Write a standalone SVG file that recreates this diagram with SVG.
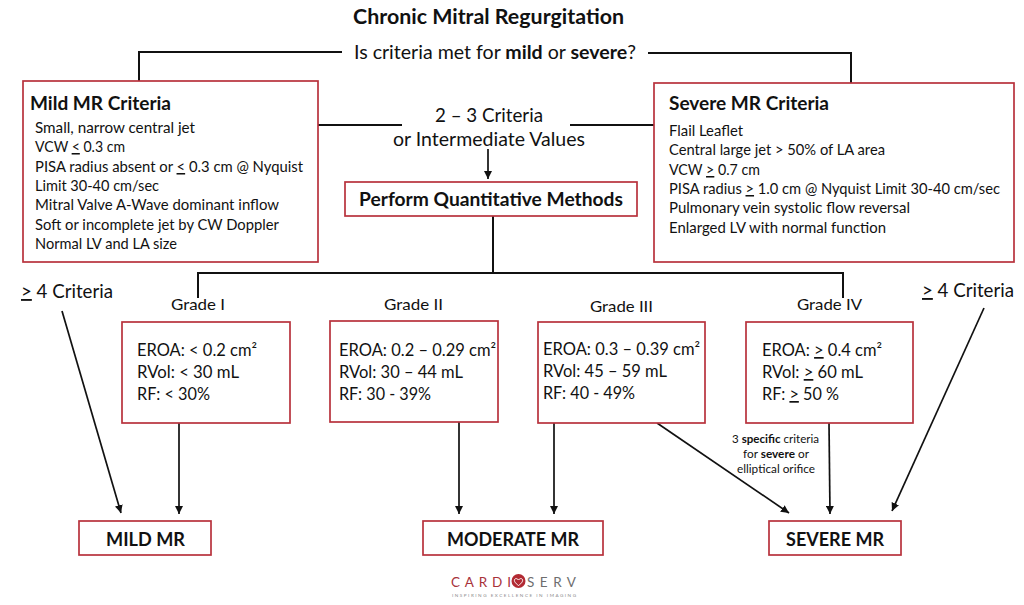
<svg xmlns="http://www.w3.org/2000/svg" width="1024" height="605" viewBox="0 0 1024 605">
<defs>
<style>
text{font-family:"Lato","Carlito","Open Sans",sans-serif;fill:#111}
.box{fill:#fff;stroke:#b8323c;stroke-width:1.7}
.ln{fill:none;stroke:#111;stroke-width:2}
.ar{fill:none;stroke:#111;stroke-width:1.7;marker-end:url(#ah)}
.b{font-weight:700}
.u{text-decoration:underline}
.t{font-size:15.4px}
.h{font-size:19.8px;font-weight:700}
.g{font-size:15.8px}
.m{font-size:17px}
.q{font-size:18.6px}
.o{font-size:19.6px;font-weight:700;text-anchor:middle}
.s{font-size:11px}
</style>
<marker id="ah" viewBox="0 0 8 8" refX="8" refY="4" markerWidth="8" markerHeight="8" markerUnits="userSpaceOnUse" orient="auto"><path d="M0 0L8 4L0 8Z" fill="#111"/></marker>
</defs>
<rect width="1024" height="605" fill="#fff"/>
<g id="connectors">
<path class="ln" d="M342 52H139V81"/>
<path class="ln" d="M648 53H851V83"/>
<path class="ln" d="M318 125H402"/>
<path class="ln" d="M570 125H654"/>
<path class="ar" d="M488 149V179"/>
<path class="ln" d="M493 216V273"/>
<path class="ln" d="M198 298V273H843V298"/>
<path class="ar" d="M62 311L121 513"/>
<path class="ar" d="M179 423V514"/>
<path class="ar" d="M459 422V514"/>
<path class="ar" d="M554 423V514"/>
<path class="ar" d="M657 423L789 513"/>
<path class="ar" d="M829 423L830 514"/>
<path class="ar" d="M984 308L892 511"/>
</g>
<g id="title"><text class="b" x="353" y="24" font-size="20.4" textLength="271" lengthAdjust="spacingAndGlyphs">Chronic Mitral Regurgitation</text></g>
<g id="question"><text x="354" y="59" font-size="18.8" textLength="282" lengthAdjust="spacingAndGlyphs">Is criteria met for <tspan class="b">mild</tspan> or <tspan class="b">severe</tspan>?</text></g>
<g id="mild-criteria">
<rect class="box" x="23" y="81" width="295" height="181"/>
<text class="h" x="30" y="110" textLength="141" lengthAdjust="spacingAndGlyphs">Mild MR Criteria</text>
<text class="t" x="35" y="133" textLength="160" lengthAdjust="spacingAndGlyphs">Small, narrow central jet</text>
<text class="t" x="35" y="152" textLength="90" lengthAdjust="spacingAndGlyphs">VCW <tspan class="u">&lt;</tspan> 0.3 cm</text>
<text class="t" x="35" y="172" textLength="268" lengthAdjust="spacingAndGlyphs">PISA radius absent or <tspan class="u">&lt;</tspan> 0.3 cm @ Nyquist</text>
<text class="t" x="35" y="191" textLength="124" lengthAdjust="spacingAndGlyphs">Limit 30-40 cm/sec</text>
<text class="t" x="35" y="210" textLength="244" lengthAdjust="spacingAndGlyphs">Mitral Valve A-Wave dominant inflow</text>
<text class="t" x="35" y="230" textLength="244" lengthAdjust="spacingAndGlyphs">Soft or incomplete jet by CW Doppler</text>
<text class="t" x="35" y="249" textLength="142" lengthAdjust="spacingAndGlyphs">Normal LV and LA size</text>
</g>
<g id="severe-criteria">
<rect class="box" x="654" y="83" width="360" height="179"/>
<text class="h" x="669" y="110" textLength="160" lengthAdjust="spacingAndGlyphs">Severe MR Criteria</text>
<text class="t" x="669" y="136" textLength="74" lengthAdjust="spacingAndGlyphs">Flail Leaflet</text>
<text class="t" x="669" y="155" textLength="216" lengthAdjust="spacingAndGlyphs">Central large jet &gt; 50% of LA area</text>
<text class="t" x="669" y="175" textLength="91" lengthAdjust="spacingAndGlyphs">VCW <tspan class="u">&gt;</tspan> 0.7 cm</text>
<text class="t" x="669" y="194" textLength="331" lengthAdjust="spacingAndGlyphs">PISA radius <tspan class="u">&gt;</tspan> 1.0 cm @ Nyquist Limit 30-40 cm/sec</text>
<text class="t" x="669" y="213" textLength="241" lengthAdjust="spacingAndGlyphs">Pulmonary vein systolic flow reversal</text>
<text class="t" x="669" y="233" textLength="217" lengthAdjust="spacingAndGlyphs">Enlarged LV with normal function</text>
</g>
<g id="intermediate">
<text class="q" x="435" y="122" textLength="108" lengthAdjust="spacingAndGlyphs">2 – 3 Criteria</text>
<text class="q" x="393" y="146" textLength="192" lengthAdjust="spacingAndGlyphs">or Intermediate Values</text>
</g>
<g id="quantitative">
<rect class="box" x="345" y="182" width="292" height="34"/>
<text class="h" x="359" y="206" textLength="264" lengthAdjust="spacingAndGlyphs">Perform Quantitative Methods</text>
</g>
<g id="mild-count"><text class="q" x="21" y="298" textLength="92" lengthAdjust="spacingAndGlyphs"><tspan class="u">&gt;</tspan> 4 Criteria</text></g>
<g id="severe-count"><text class="q" x="922" y="297" textLength="92" lengthAdjust="spacingAndGlyphs"><tspan class="u">&gt;</tspan> 4 Criteria</text></g>
<g id="grade-1">
<text class="g" x="171" y="310" textLength="54" lengthAdjust="spacingAndGlyphs">Grade I</text>
<rect class="box" x="122" y="322" width="168" height="101"/>
<text class="m" x="137" y="356" textLength="120" lengthAdjust="spacingAndGlyphs">EROA: &lt; 0.2 cm²</text>
<text class="m" x="137" y="378" textLength="102" lengthAdjust="spacingAndGlyphs">RVol: &lt; 30 mL</text>
<text class="m" x="137" y="400" textLength="73" lengthAdjust="spacingAndGlyphs">RF: &lt; 30%</text>
</g>
<g id="grade-2">
<text class="g" x="384" y="310" textLength="59" lengthAdjust="spacingAndGlyphs">Grade II</text>
<rect class="box" x="330" y="321" width="168" height="101"/>
<text class="m" x="339" y="356" textLength="157" lengthAdjust="spacingAndGlyphs">EROA: 0.2 – 0.29 cm²</text>
<text class="m" x="339" y="378" textLength="124" lengthAdjust="spacingAndGlyphs">RVol: 30 – 44 mL</text>
<text class="m" x="339" y="400" textLength="92" lengthAdjust="spacingAndGlyphs">RF: 30 - 39%</text>
</g>
<g id="grade-3">
<text class="g" x="590" y="312" textLength="63" lengthAdjust="spacingAndGlyphs">Grade III</text>
<rect class="box" x="538" y="322" width="167" height="101"/>
<text class="m" x="543" y="355" textLength="157" lengthAdjust="spacingAndGlyphs">EROA: 0.3 – 0.39 cm²</text>
<text class="m" x="543" y="377" textLength="124" lengthAdjust="spacingAndGlyphs">RVol: 45 – 59 mL</text>
<text class="m" x="543" y="399" textLength="92" lengthAdjust="spacingAndGlyphs">RF: 40 - 49%</text>
</g>
<g id="grade-4">
<text class="g" x="797" y="310" textLength="65" lengthAdjust="spacingAndGlyphs">Grade IV</text>
<rect class="box" x="746" y="322" width="167" height="101"/>
<text class="m" x="762" y="356" textLength="120" lengthAdjust="spacingAndGlyphs">EROA: <tspan class="u">&gt;</tspan> 0.4 cm²</text>
<text class="m" x="762" y="378" textLength="101" lengthAdjust="spacingAndGlyphs">RVol: <tspan class="u">&gt;</tspan> 60 mL</text>
<text class="m" x="762" y="400" textLength="77" lengthAdjust="spacingAndGlyphs">RF: <tspan class="u">&gt;</tspan> 50 %</text>
</g>
<g id="specific-note">
<text class="s" x="732" y="443" textLength="87" lengthAdjust="spacingAndGlyphs">3 <tspan class="b">specific</tspan> criteria</text>
<text class="s" x="743" y="458" textLength="66" lengthAdjust="spacingAndGlyphs">for <tspan class="b">severe</tspan> or</text>
<text class="s" x="737" y="473" textLength="78" lengthAdjust="spacingAndGlyphs">elliptical orifice</text>
</g>
<g id="mild-mr"><rect class="box" x="79" y="521" width="132" height="34"/><text class="o" x="145.500" y="546" textLength="79" lengthAdjust="spacingAndGlyphs">MILD MR</text></g>
<g id="moderate-mr"><rect class="box" x="423" y="521" width="180" height="34"/><text class="o" x="513" y="546" textLength="132" lengthAdjust="spacingAndGlyphs">MODERATE MR</text></g>
<g id="severe-mr"><rect class="box" x="769" y="521" width="132" height="34"/><text class="o" x="835" y="546" textLength="98" lengthAdjust="spacingAndGlyphs">SEVERE MR</text></g>
<g id="logo">
<circle cx="518.500" cy="581" r="7" fill="#b22a33"/>
<path d="M518.500 585.500C515 583 514 581 514.500 579.500C515.500 578 517.500 578.500 518.500 580C519.500 578.500 521.500 578 522.500 579.500C523 581 522 583 518.500 585.500Z" fill="none" stroke="#fff" stroke-width="1"/>
<text x="451" y="587" font-size="13.5" style="fill:#a8323a" textLength="60" lengthAdjust="spacing">CARDI</text>
<text x="527" y="587" font-size="13.5" style="fill:#6e6e6e" textLength="49" lengthAdjust="spacing">SERV</text>
<text x="452" y="597" font-size="4.600" style="fill:#8a8a8a" textLength="124" lengthAdjust="spacing">INSPIRING EXCELLENCE IN IMAGING</text>
</g>
</svg>
